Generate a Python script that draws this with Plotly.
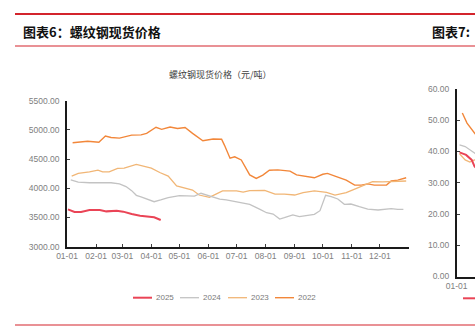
import plotly.graph_objects as go

W, H = 475, 331
AXIS_YEAR = "2021"  # dummy non-leap year used to place month-day values

# ---------------- data: rebar spot price (yuan/ton) ----------------
dates_2022 = ["01-07", "01-14", "01-23", "02-04", "02-11", "02-17", "02-26", "03-11", "03-21", "03-27",
              "04-06", "04-12", "04-21", "04-29", "05-07", "05-15", "05-26", "06-06", "06-15", "06-18",
              "06-24", "06-29", "07-06", "07-15", "07-22", "07-29", "08-05", "08-14", "08-27", "09-03",
              "09-13", "09-22", "10-01", "10-06", "10-14", "10-26", "11-04", "11-11", "11-18", "11-25",
              "12-08", "12-13", "12-20", "12-29"]
price_2022 = [4780, 4790, 4805, 4790, 4895, 4870, 4860, 4910, 4915, 4940,
              5045, 5010, 5050, 5025, 5040, 4940, 4815, 4845, 4840, 4740,
              4515, 4540, 4485, 4230, 4170, 4225, 4310, 4315, 4295, 4230,
              4210, 4180, 4240, 4255, 4210, 4140, 4055, 4055, 4075, 4055,
              4055, 4125, 4140, 4180]

dates_2023 = ["01-06", "01-13", "01-25", "02-03", "02-08", "02-15", "02-24", "03-03", "03-16", "03-27",
              "04-01", "04-10", "04-19", "04-28", "05-07", "05-15", "05-22", "06-02", "06-09", "06-16",
              "07-01", "07-08", "07-15", "07-26", "07-31", "08-11", "08-21", "09-01", "09-10", "09-22",
              "10-05", "10-14", "10-26", "11-06", "11-16", "11-23", "12-04", "12-15", "12-29"]
price_2023 = [4210, 4255, 4280, 4310, 4280, 4280, 4340, 4345, 4410, 4360,
              4345, 4270, 4210, 4040, 4010, 3970, 3885, 3845, 3900, 3955,
              3955, 3935, 3960, 3970, 3965, 3900, 3900, 3885, 3925, 3955,
              3930, 3885, 3925, 4000, 4075, 4115, 4110, 4115, 4125]

dates_2024 = ["01-05", "01-13", "01-25", "02-05", "02-17", "02-26", "03-05", "03-11", "03-16", "03-21",
              "03-28", "04-04", "04-11", "04-19", "05-01", "05-12", "05-17", "05-24", "06-02", "06-13",
              "06-20", "07-04", "07-15", "07-26", "08-02", "08-09", "08-16", "08-21", "08-30", "09-06",
              "09-17", "09-22", "09-28", "10-04", "10-10", "10-17", "10-24", "10-31", "11-09", "11-18",
              "11-29", "12-13", "12-20", "12-26"]
price_2024 = [4145, 4105, 4095, 4100, 4095, 4075, 4030, 3960, 3880, 3855,
              3810, 3770, 3800, 3840, 3873, 3873, 3865, 3915, 3868, 3816,
              3800, 3760, 3726, 3640, 3582, 3560, 3474, 3497, 3543, 3514,
              3543, 3554, 3617, 3880, 3856, 3817, 3726, 3731, 3685, 3645,
              3628, 3651, 3640, 3640]

dates_2025 = ["01-02", "01-09", "01-16", "01-25", "02-05", "02-12", "02-23", "03-02", "03-11", "03-20",
              "03-30", "04-04", "04-11"]
price_2025 = [3640, 3594, 3594, 3628, 3628, 3605, 3617, 3600, 3560, 3531,
              3514, 3503, 3457]

series_names = ["2025", "2024", "2023", "2022"]
series_colors = ["#ea4456", "#c3c3c3", "#f1b676", "#f2873a"]
series_widths = [2.0, 1.3, 1.3, 1.4]

month_ticks = ["01-01", "02-01", "03-01", "04-01", "05-01", "06-01",
               "07-01", "08-01", "09-01", "10-01", "11-01", "12-01"]
price_ticks = [3000, 3500, 4000, 4500, 5000, 5500]

# ---------------- data: neighbouring chart (cropped at the page edge) ----------------
right_dates_2025 = ["01-04", "01-11", "01-17", "01-20", "01-25"]
right_vals_2025 = [39.7, 38.9, 37.3, 35.2, 34.0]
right_dates_2024 = ["01-04", "01-10", "01-20", "01-25"]
right_vals_2024 = [42.1, 41.6, 39.5, 38.5]
right_dates_2023 = ["01-04", "01-10", "01-15", "01-18", "01-25"]
right_vals_2023 = [39.3, 37.3, 36.6, 37.3, 38.0]
right_dates_2022 = ["01-07", "01-12", "01-20", "01-25"]
right_vals_2022 = [52.3, 49.1, 45.9, 44.0]
right_ticks = [0, 10, 20, 30, 40, 50, 60]

# ---------------- helpers ----------------
def px(x):
    return x / W

def py(y):
    return 1 - y / H

def d(mmdd):
    return f"{AXIS_YEAR}-{mmdd}"

RED = "#d3242c"
TICK_FONT = dict(family="Liberation Sans, Arial, sans-serif", size=8.5, color="#808080")

fig = go.Figure()

main = {
    "2022": (dates_2022, price_2022),
    "2023": (dates_2023, price_2023),
    "2024": (dates_2024, price_2024),
    "2025": (dates_2025, price_2025),
}
right = {
    "2022": (right_dates_2022, right_vals_2022),
    "2023": (right_dates_2023, right_vals_2023),
    "2024": (right_dates_2024, right_vals_2024),
    "2025": (right_dates_2025, right_vals_2025),
}

for name in ["2022", "2023", "2024", "2025"]:
    i = series_names.index(name)
    xs, ys = main[name]
    fig.add_trace(go.Scatter(x=[d(v) for v in xs], y=ys, mode="lines", name=name,
                             line=dict(color=series_colors[i], width=series_widths[i]),
                             showlegend=False, xaxis="x", yaxis="y"))
    rx, ry = right[name]
    fig.add_trace(go.Scatter(x=[d(v) for v in rx], y=ry, mode="lines", name=name,
                             line=dict(color=series_colors[i], width=series_widths[i]),
                             showlegend=False, xaxis="x2", yaxis="y2"))

tickvals = [d(m) for m in month_ticks] + ["2022-01-01"]
ticktext = month_ticks + [""]

axis_common = dict(showgrid=False, zeroline=False, showline=True, linecolor="#1a1a1a",
                   linewidth=1.6, ticks="inside", ticklen=3, tickwidth=1.4,
                   tickcolor="#404040", tickfont=TICK_FONT, automargin=False)

fig.update_layout(
    width=W, height=H,
    margin=dict(l=0, r=0, t=0, b=0),
    paper_bgcolor="white", plot_bgcolor="white",
    showlegend=False,
    xaxis=dict(domain=[px(67), px(409)], type="date",
               range=["2021-01-01", "2022-01-01"],
               tickmode="array", tickvals=tickvals, ticktext=ticktext,
               anchor="y", **axis_common),
    yaxis=dict(domain=[py(246.7), py(100.7)], range=[3000, 5500],
               tickmode="array", tickvals=price_ticks, tickformat=".2f",
               ticklabelstandoff=4, anchor="x", **axis_common),
    xaxis2=dict(domain=[px(456.7), 1], type="date",
                range=["2021-01-01", "2021-01-20 12:00"],
                tickmode="array", tickvals=[d("01-01")], ticktext=["01-01"],
                anchor="y2", **axis_common),
    yaxis2=dict(domain=[py(276.5), py(89)], range=[0, 60],
                tickmode="array", tickvals=right_ticks, tickformat=".2f",
                ticklabelstandoff=4, anchor="x2", **axis_common),
)

shapes = [
    dict(type="line", xref="paper", yref="paper", x0=px(15), x1=1.0, y0=py(14), y1=py(14),
         line=dict(color=RED, width=1.8)),
    dict(type="line", xref="paper", yref="paper", x0=px(15), x1=1.0, y0=py(46), y1=py(46),
         line=dict(color=RED, width=1.1)),
    dict(type="line", xref="paper", yref="paper", x0=px(15), x1=1.0, y0=py(325), y1=py(325),
         line=dict(color=RED, width=1.1)),
]

annotations = [
    dict(text="<b>图表6：螺纹钢现货价格</b>", x=px(21), y=py(32), xref="paper", yref="paper",
         xanchor="left", yanchor="middle", showarrow=False,
         font=dict(family="Noto Sans CJK SC", size=13, color="#111111")),
    dict(text="<b>图表7:</b>", x=px(430), y=py(32), xref="paper", yref="paper",
         xanchor="left", yanchor="middle", showarrow=False,
         font=dict(family="Noto Sans CJK SC", size=13, color="#111111")),
    dict(text="螺纹钢现货价格（元/吨）", x=px(220), y=py(74), xref="paper", yref="paper",
         xanchor="center", yanchor="middle", showarrow=False,
         font=dict(family="Noto Sans CJK SC", size=9, color="#404040")),
]

# manual legend (short line keys like the original)
legend_x = [133, 180, 228, 275]
legend_y = 297.7
for i, name in enumerate(series_names):
    x0 = legend_x[i]
    shapes.append(dict(type="line", xref="paper", yref="paper",
                       x0=px(x0), x1=px(x0 + 19), y0=py(legend_y), y1=py(legend_y),
                       line=dict(color=series_colors[i], width=series_widths[i])))
    annotations.append(dict(text=name, x=px(x0 + 21), y=py(legend_y), xref="paper", yref="paper",
                            xanchor="left", yanchor="middle", showarrow=False,
                            font=dict(family="Liberation Sans, Arial, sans-serif", size=8, color="#7a7a7a")))

# cropped legend key of the neighbouring chart
shapes.append(dict(type="line", xref="paper", yref="paper", x0=px(463), x1=1.0,
                   y0=py(298.3), y1=py(298.3), line=dict(color=series_colors[0], width=2.0)))

fig.update_layout(shapes=shapes, annotations=annotations)

fig.write_html("out.html")
